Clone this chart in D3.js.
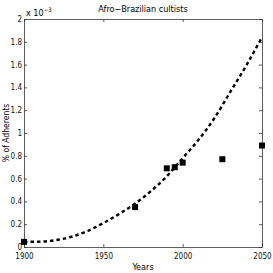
<!DOCTYPE html>
<html>
<head>
<meta charset="utf-8">
<script src="https://cdnjs.cloudflare.com/ajax/libs/d3/7.8.5/d3.min.js"></script>
<style>
  body { margin: 0; background: #fff; }
  text { font-family: "Liberation Sans Narrow", "DejaVu Sans Condensed", "Liberation Sans", Arial, sans-serif; }
</style>
</head>
<body>
<div id="chart"></div>
<script>
// observed points (% of adherents, units of 1e-3)
var pointYears = [1900, 1970, 1990, 1995, 2000, 2025, 2050]
var pointValues = [0.045, 0.35, 0.69, 0.70, 0.74, 0.77, 0.89]

// fitted trend
var curveYears = [1900, 1910, 1920, 1930, 1940, 1950, 1960, 1970, 1980, 1990, 2000, 2010, 2020, 2030, 2040, 2050]
var curveValues = [0.045, 0.047, 0.06, 0.09, 0.14, 0.21, 0.29, 0.38, 0.49, 0.62, 0.78, 0.94, 1.13, 1.36, 1.59, 1.84]

var xTicks = [1900, 1950, 2000, 2050]
var yTicks = [0, 0.2, 0.4, 0.6, 0.8, 1, 1.2, 1.4, 1.6, 1.8, 2]

var width = 273, height = 273
var margin = {top: 19, right: 11, bottom: 26, left: 24}
var w = width - margin.left - margin.right,
    h = height - margin.top - margin.bottom

var svg = d3.select("#chart").append("svg")
  .attr("width", width)
  .attr("height", height)

var g = svg.append("g")
  .attr("transform", "translate(" + margin.left + "," + margin.top + ")")

var x = d3.scaleLinear().domain([1900, 2050]).range([0, w])
var y = d3.scaleLinear().domain([0, 2]).range([h, 0])

var axisColor = "#333"
var fmt = function(d) { return d3.format("~g")(d) }

// axes, MATLAB style box with inward ticks
var bottom = g.append("g")
  .attr("transform", "translate(0," + h + ")")
  .call(d3.axisBottom(x).tickValues(xTicks).tickSizeInner(-3).tickSizeOuter(0).tickPadding(7).tickFormat(d3.format("d")))
var top_ = g.append("g")
  .call(d3.axisTop(x).tickValues(xTicks).tickSizeInner(-3).tickSizeOuter(0).tickFormat(""))
var left = g.append("g")
  .call(d3.axisLeft(y).tickValues(yTicks).tickSizeInner(-3).tickSizeOuter(0).tickPadding(2).tickFormat(fmt))
var right = g.append("g")
  .attr("transform", "translate(" + w + ",0)")
  .call(d3.axisRight(y).tickValues(yTicks).tickSizeInner(-3).tickSizeOuter(0).tickFormat(""))

g.selectAll(".domain, .tick line").attr("stroke", axisColor).attr("stroke-width", 0.8)
g.selectAll(".tick text").attr("fill", "#111").style("font-size", "8px")
bottom.selectAll(".tick text").attr("dy", "0.6em")
left.selectAll(".tick text").attr("dy", "0.3em")

// dashed fitted curve
var curveData = curveYears.map(function(d, i) { return {year: d, value: curveValues[i]} })
g.append("path")
  .datum(curveData)
  .attr("fill", "none")
  .attr("stroke", "#000")
  .attr("stroke-width", 2.4)
  .attr("stroke-dasharray", "3.5,3")
  .attr("d", d3.line()
    .curve(d3.curveMonotoneX)
    .x(function(d) { return x(d.year) })
    .y(function(d) { return y(d.value) }))

// square markers
var pointData = pointYears.map(function(d, i) { return {year: d, value: pointValues[i]} })
var s = 6
g.selectAll("rect.pt")
  .data(pointData)
  .enter()
  .append("rect")
    .attr("class", "pt")
    .attr("x", function(d) { return x(d.year) - s / 2 })
    .attr("y", function(d) { return y(d.value) - s / 2 })
    .attr("width", s)
    .attr("height", s)
    .attr("fill", "#000")

// labels
svg.append("text")
  .attr("x", margin.left + w / 2)
  .attr("y", 12)
  .attr("text-anchor", "middle")
  .style("font-size", "9px")
  .text("Afro\u2212Brazilian cultists")

var mult = svg.append("text")
  .attr("x", margin.left + 2)
  .attr("y", 16)
  .style("font-size", "9px")
mult.append("tspan").text("x 10")
mult.append("tspan").attr("dy", -4).style("font-size", "6px").text("\u22123")

svg.append("text")
  .attr("x", margin.left + w / 2)
  .attr("y", 270)
  .attr("text-anchor", "middle")
  .style("font-size", "9px")
  .text("Years")

svg.append("text")
  .attr("transform", "translate(9," + (margin.top + h / 2) + ") rotate(-90)")
  .attr("text-anchor", "middle")
  .style("font-size", "8.5px")
  .text("% of Adherents")
</script>
</body>
</html>
